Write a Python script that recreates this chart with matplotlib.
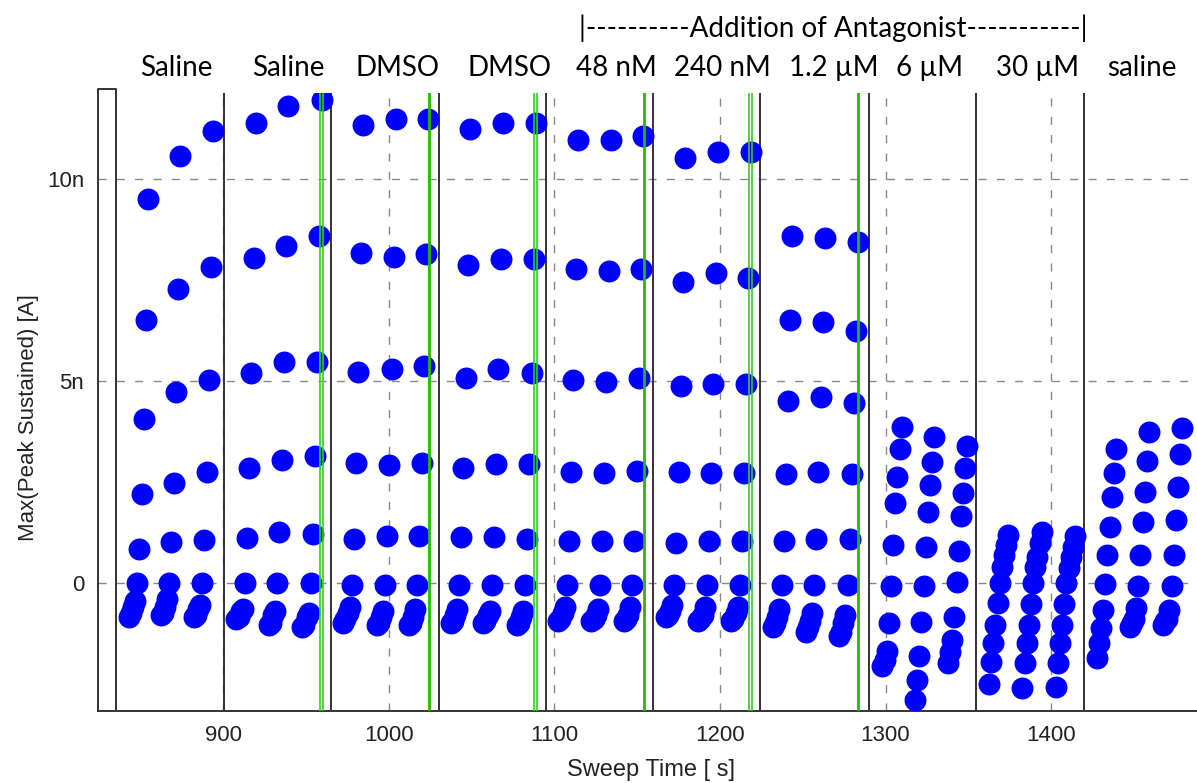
import matplotlib
matplotlib.use('Agg')
import matplotlib.pyplot as plt

plt.rcParams['font.family'] = ['Liberation Sans', 'DejaVu Sans']

# time of the first trace in every sweep [s]
sweep_times = [854.4, 873.8, 893.7,
               919.5, 939.0, 959.3,
               984.1, 1004.2, 1023.6,
               1048.9, 1068.7, 1088.8,
               1114.0, 1134.0, 1153.5,
               1178.9, 1198.6, 1218.5,
               1243.7, 1263.4, 1283.6,
               1309.8, 1329.5, 1349.4,
               1374.2, 1394.4, 1414.5,
               1439.3, 1459.2, 1479.3]

# time of each of the 10 traces, relative to the first one [s]
trace_offsets = [0, -1.3, -2.6, -3.9, -5.2, -6.5, -7.8, -9.1, -10.4, -11.7]

# max(peak sustained) of every trace [nA]
currents = [
    [9.5, 6.5, 4.05, 2.2, 0.85, 0.0, -0.45, -0.6, -0.75, -0.85],
    [10.57, 7.28, 4.73, 2.48, 1.02, 0.0, -0.4, -0.6, -0.75, -0.8],
    [11.19, 7.82, 5.02, 2.75, 1.06, 0.0, -0.55, -0.65, -0.8, -0.85],
    [11.38, 8.04, 5.2, 2.85, 1.11, 0.0, -0.65, -0.7, -0.85, -0.9],
    [11.8, 8.34, 5.48, 3.04, 1.26, 0.0, -0.7, -0.8, -1.0, -1.05],
    [11.96, 8.59, 5.48, 3.14, 1.21, 0.0, -0.75, -0.85, -1.05, -1.1],
    [11.34, 8.18, 5.23, 2.97, 1.1, -0.05, -0.6, -0.75, -0.9, -1.0],
    [11.49, 8.08, 5.3, 2.92, 1.17, -0.05, -0.7, -0.85, -1.0, -1.05],
    [11.49, 8.14, 5.38, 2.97, 1.17, -0.05, -0.65, -0.85, -1.0, -1.05],
    [11.24, 7.87, 5.08, 2.85, 1.15, -0.05, -0.65, -0.8, -0.95, -1.0],
    [11.38, 8.02, 5.29, 2.95, 1.15, -0.05, -0.7, -0.8, -0.95, -1.0],
    [11.38, 8.02, 5.21, 2.95, 1.1, -0.05, -0.7, -0.85, -1.0, -1.05],
    [10.97, 7.77, 5.02, 2.75, 1.05, -0.05, -0.6, -0.75, -0.9, -0.95],
    [10.97, 7.72, 4.98, 2.72, 1.05, -0.05, -0.65, -0.8, -0.9, -0.95],
    [11.07, 7.77, 5.07, 2.78, 1.05, -0.05, -0.6, -0.8, -0.9, -0.95],
    [10.51, 7.46, 4.88, 2.75, 1.0, -0.05, -0.55, -0.7, -0.8, -0.85],
    [10.68, 7.67, 4.92, 2.72, 1.05, -0.05, -0.6, -0.8, -0.9, -0.95],
    [10.68, 7.56, 4.93, 2.72, 1.05, -0.05, -0.6, -0.75, -0.9, -0.95],
    [8.6, 6.51, 4.5, 2.7, 1.05, -0.05, -0.65, -0.85, -1.0, -1.1],
    [8.55, 6.45, 4.6, 2.75, 1.1, -0.05, -0.75, -0.95, -1.1, -1.2],
    [8.43, 6.24, 4.45, 2.7, 1.1, -0.05, -0.8, -1.0, -1.2, -1.3],
    [3.87, 3.33, 2.63, 1.97, 0.94, -0.07, -0.98, -1.68, -1.9, -2.05],
    [3.61, 3.0, 2.43, 1.76, 0.9, -0.07, -0.96, -1.81, -2.4, -2.9],
    [3.39, 2.84, 2.22, 1.66, 0.8, 0.03, -0.83, -1.41, -1.7, -1.99],
    [1.19, 0.94, 0.69, 0.40, -0.01, -0.50, -1.04, -1.49, -1.95, -2.5],
    [1.27, 0.98, 0.65, 0.40, -0.01, -0.52, -1.04, -1.49, -1.97, -2.61],
    [1.16, 0.9, 0.65, 0.36, -0.01, -0.52, -1.04, -1.49, -1.97, -2.57],
    [3.33, 2.73, 2.12, 1.39, 0.69, -0.02, -0.67, -1.12, -1.49, -1.86],
    [3.75, 3.03, 2.26, 1.52, 0.69, -0.07, -0.63, -0.9, -1.0, -1.08],
    [3.84, 3.19, 2.38, 1.56, 0.69, -0.07, -0.67, -0.9, -0.95, -1.04],
]

# solution changes (black) and drug additions (green)
boundaries = [835, 900.3, 965, 1030.2, 1094.7, 1159.5, 1224.2, 1290.1, 1354.7, 1420]
green_double = [959.3, 1088.6, 1218.7]
green_single = [1024.2, 1154.1, 1283.4]

segment_labels = ['Saline', 'Saline', 'DMSO', 'DMSO', '48 nM', '240 nM',
                  '1.2 \u00b5M', '6 \u00b5M', '30 \u00b5M', 'saline']
label_px = [176, 288, 397, 510, 616, 722, 834, 929, 1037, 1142]

W, H = 1197, 783
fig = plt.figure(figsize=(W / 100, H / 100), dpi=100)
ax = fig.add_axes([98 / W, 1 - 710.7 / H, (W - 98) / W, (710.7 - 93) / H])

xmin, xmax = 824.2, 1488.2
ymin, ymax = -3.16, 12.13
ax.set_xlim(xmin, xmax)
ax.set_ylim(ymin, ymax)

# grid
ax.set_axisbelow(True)
ax.grid(True, color='#888888', linewidth=1.0, linestyle=(0, (5.8, 7.4)))

for b in boundaries:
    ax.axvline(b, color='#333333', linewidth=1.4, zorder=2)

for t0, vals in zip(sweep_times, currents):
    xs = [t0 + d for d in trace_offsets]
    ax.plot(xs, vals, 'o', color='#0000ff', markersize=15.8,
            markeredgewidth=0, zorder=3, clip_on=True)

for g in green_double:
    ax.axvline(g - 0.9, color='#33cc22', linewidth=1.2, zorder=4)
    ax.axvline(g + 0.9, color='#33cc22', linewidth=1.2, zorder=4)
for g in green_single:
    ax.axvline(g, color='#22bb00', linewidth=2.0, zorder=4)

# little box at the top-left corner
ax.plot([xmin, xmin, boundaries[0], boundaries[0]],
        [ymax, ymax + 0.1, ymax + 0.1, ymax],
        color='#333333', linewidth=1.4, clip_on=False, zorder=5)

for side in ['top', 'right']:
    ax.spines[side].set_visible(False)
for side in ['left', 'bottom']:
    ax.spines[side].set_color('#333333')
    ax.spines[side].set_linewidth(1.4)

ax.set_xticks([900, 1000, 1100, 1200, 1300, 1400])
ax.set_yticks([0, 5, 10])
ax.set_yticklabels(['0', '5n', '10n'])
ax.tick_params(length=0, pad=10, labelsize=16, colors='#222222')

ax.set_xlabel('Sweep Time [ s]', fontsize=17, color='#222222')
ax.set_ylabel('Max(Peak Sustained) [A]', fontsize=16, color='#222222')
ax.xaxis.set_label_coords(0.503, -0.079)
ax.yaxis.set_label_coords(-0.054, 0.474)

for lab, px in zip(segment_labels, label_px):
    fig.text(px / W, 1 - 68 / H, lab, ha='center', va='center',
             fontsize=20, family='Lato')
fig.text(833 / W, 1 - 28 / H, '|----------Addition of Antagonist-----------|',
         ha='center', va='center', fontsize=20, family='Lato')

fig.savefig('out.png', dpi=100)
